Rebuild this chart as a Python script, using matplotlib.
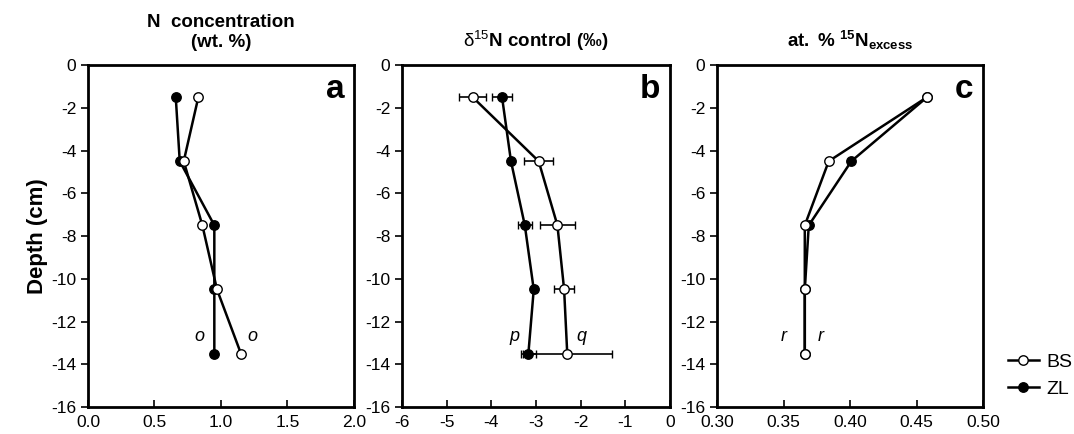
import matplotlib
matplotlib.use("Agg")
import matplotlib.pyplot as plt
from matplotlib.ticker import FormatStrFormatter

plt.rcParams['font.family'] = ['Liberation Sans', 'DejaVu Sans']
plt.rcParams['mathtext.fontset'] = 'custom'
plt.rcParams['mathtext.rm'] = 'Liberation Sans'
plt.rcParams['mathtext.bf'] = 'Liberation Sans:bold'
plt.rcParams['mathtext.it'] = 'Liberation Sans:italic'
plt.rcParams['axes.unicode_minus'] = False

# Sample depths (cm)
depth = [-1.5, -4.5, -7.5, -10.5, -13.5]

# Panel a: N concentration (wt. %)
n_conc_bs = [0.83, 0.72, 0.86, 0.97, 1.15]
n_conc_zl = [0.66, 0.69, 0.95, 0.95, 0.95]

# Panel b: d15N control (permil) with errors
d15n_bs = [-4.42, -2.94, -2.52, -2.37, -2.30]
d15n_bs_err = [0.31, 0.33, 0.39, 0.22, 1.00]
d15n_zl = [-3.76, -3.56, -3.25, -3.05, -3.17]
d15n_zl_err = [0.23, 0.04, 0.15, 0.05, 0.17]

# Panel c: at. % 15N excess
excess_bs = [0.458, 0.384, 0.366, 0.366, 0.366]
excess_zl = [0.458, 0.401, 0.369, 0.366, 0.366]

xlims = [(0.0, 2.0), (-6, 0), (0.30, 0.50)]
xticks = [[0.0, 0.5, 1.0, 1.5, 2.0], [-6, -5, -4, -3, -2, -1, 0],
          [0.30, 0.35, 0.40, 0.45, 0.50]]
xfmt = ['%.1f', '%d', '%.2f']
titles = ["N  concentration\n(wt. %)",
          r"$\mathrm{\delta}^{15}$$\mathbf{N\ control\ (‰)}$",
          r"$\mathbf{at.\ \%\ ^{15}N_{excess}}$"]
panel_letters = ['a', 'b', 'c']
sig_labels = [[(0.84, 'o'), (1.235, 'o')],
              [(-3.49, 'p'), (-1.98, 'q')],
              [(0.350, 'r'), (0.378, 'r')]]

fig = plt.figure(figsize=(10.74, 4.34), dpi=100)
lefts = [0.0819, 0.3743, 0.6676]
widths = [0.2477, 0.2495, 0.2477]
axes = [fig.add_axes([l, 0.0622, w, 0.788]) for l, w in zip(lefts, widths)]

line_kw = dict(color='black', linewidth=1.8, markersize=6.8,
               markeredgecolor='black', markeredgewidth=1.0)

for i, ax in enumerate(axes):
    if i == 0:
        ax.plot(n_conc_zl, depth, marker='o', markerfacecolor='black', **line_kw)
        ax.plot(n_conc_bs, depth, marker='o', markerfacecolor='white', **line_kw)
    elif i == 1:
        ax.errorbar(d15n_zl, depth, xerr=d15n_zl_err, marker='o',
                    markerfacecolor='black', capsize=3, elinewidth=1.2,
                    capthick=1.2, ecolor='black', **line_kw)
        ax.errorbar(d15n_bs, depth, xerr=d15n_bs_err, marker='o',
                    markerfacecolor='white', capsize=3, elinewidth=1.2,
                    capthick=1.2, ecolor='black', **line_kw)
    else:
        ax.plot(excess_zl, depth, marker='o', markerfacecolor='black',
                label='ZL', **line_kw)
        ax.plot(excess_bs, depth, marker='o', markerfacecolor='white',
                label='BS', **line_kw)

    ax.set_xlim(*xlims[i])
    ax.set_ylim(-16, 0)
    ax.set_xticks(xticks[i])
    ax.set_yticks(range(-16, 1, 2))
    ax.xaxis.set_major_formatter(FormatStrFormatter(xfmt[i]))
    ax.tick_params(axis='x', direction='in', length=5, width=1.2,
                   labelsize=12.5, pad=6)
    ax.tick_params(axis='y', direction='out', length=5, width=1.2,
                   labelsize=12.5)
    for s in ax.spines.values():
        s.set_linewidth(2.0)
    ax.set_title(titles[i], fontsize=13.5, fontweight='bold', pad=13)
    ax.text(0.965, 0.975, panel_letters[i], transform=ax.transAxes,
            ha='right', va='top', fontsize=24, fontweight='bold')
    for x, s in sig_labels[i]:
        ax.text(x, -12.7, s, ha='center', va='center', fontsize=13,
                style='italic')

axes[0].set_ylabel("Depth (cm)", fontsize=16, fontweight='bold', labelpad=2)

h, l = axes[2].get_legend_handles_labels()
fig.legend(h[::-1], l[::-1], loc='center left', bbox_to_anchor=(0.922, 0.135),
           frameon=False, fontsize=14, handlelength=1.6, handletextpad=0.4,
           labelspacing=0.5)

fig.savefig("out.png", dpi=100)
